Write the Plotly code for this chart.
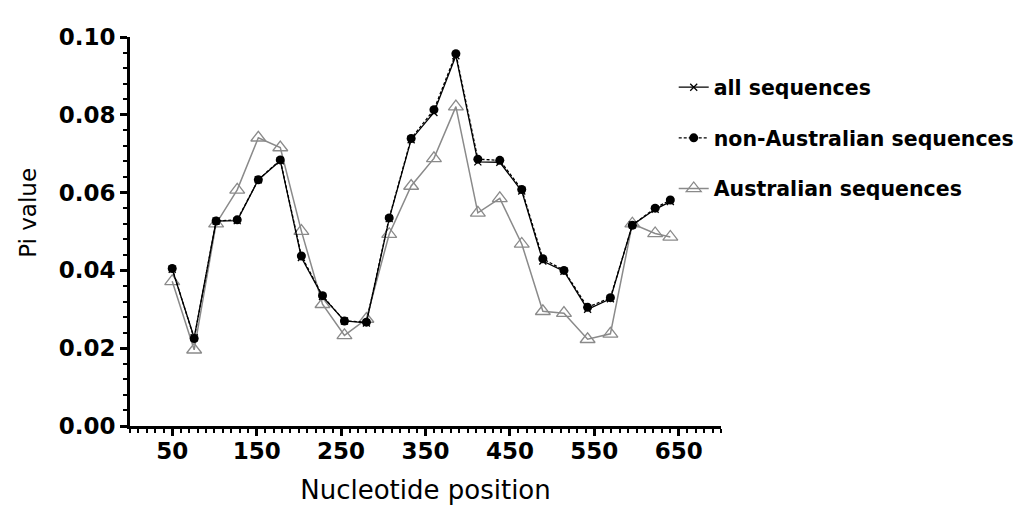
import plotly.graph_objects as go

positions = [50, 76, 102, 127, 152, 178, 203, 228, 254, 280, 307, 333,
             360, 386, 412, 438, 464, 489, 514, 542, 569, 595, 622, 640]

all_sequences = [0.0403, 0.0227, 0.0527, 0.0528, 0.0633, 0.0682, 0.0433, 0.0333,
                 0.0270, 0.0265, 0.0533, 0.0736, 0.0806, 0.0952, 0.0679, 0.0678,
                 0.0604, 0.0424, 0.0398, 0.0300, 0.0327, 0.0517, 0.0557, 0.0577]

non_australian = [0.0405, 0.0225, 0.0527, 0.0530, 0.0633, 0.0684, 0.0437, 0.0335,
                  0.0270, 0.0267, 0.0535, 0.0739, 0.0813, 0.0957, 0.0686, 0.0683,
                  0.0608, 0.0430, 0.0400, 0.0305, 0.0330, 0.0516, 0.0560, 0.0581]

australian = [0.0372, 0.0196, 0.0520, 0.0607, 0.0741, 0.0716, 0.0501, 0.0313,
              0.0233, 0.0275, 0.0493, 0.0617, 0.0688, 0.0821, 0.0548, 0.0585,
              0.0468, 0.0295, 0.0290, 0.0223, 0.0237, 0.0520, 0.0495, 0.0486]

x_ticks = [50, 150, 250, 350, 450, 550, 650]
y_ticks = [0.00, 0.02, 0.04, 0.06, 0.08, 0.10]

FONT = "'DejaVu Sans', sans-serif"
GRAY = "#8a8a8a"

fig = go.Figure()
fig.add_trace(go.Scatter(
    x=positions, y=australian, name="Australian sequences", mode="lines+markers",
    legendgroup="c", legendrank=3,
    line=dict(color=GRAY, width=1.5),
    marker=dict(symbol="triangle-up-open", size=13, color=GRAY, line=dict(width=1.3, color=GRAY)),
))
fig.add_trace(go.Scatter(
    x=positions, y=non_australian, name="non-Australian sequences", mode="lines+markers",
    legendgroup="b", legendrank=2,
    line=dict(color="black", width=1.3, dash="3px,2px"),
    marker=dict(symbol="circle", size=9, color="black"),
))
fig.add_trace(go.Scatter(
    x=positions, y=all_sequences, name="all sequences", mode="lines+markers",
    legendgroup="a", legendrank=1,
    line=dict(color="black", width=1.3),
    marker=dict(symbol="x-thin", size=7, color="black", line=dict(width=1.3, color="black")),
))

fig.update_layout(
    width=1027, height=505,
    paper_bgcolor="white", plot_bgcolor="white",
    margin=dict(l=122, r=314, t=29, b=87),
    font=dict(family=FONT, color="black"),
    showlegend=True,
    legend=dict(
        x=0.920, y=0.922, xanchor="left", yanchor="top",
        traceorder="grouped",
        font=dict(family=FONT, size=20.5, color="black", weight="bold"),
        tracegroupgap=21, itemwidth=30,
        bgcolor="rgba(0,0,0,0)",
    ),
    xaxis=dict(
        range=[0, 700], tickvals=x_ticks, ticktext=[str(v) for v in x_ticks],
        showgrid=False, zeroline=False,
        showline=True, linecolor="black", linewidth=3,
        ticks="outside", ticklen=7, tickwidth=2.5, tickcolor="black",
        ticklabelstandoff=-5,
        tickfont=dict(family=FONT, size=23, color="black", weight="bold"),
        minor=dict(dtick=10, tick0=0, ticks="outside", ticklen=4, tickwidth=2, tickcolor="black", showgrid=False),
        title=dict(text="Nucleotide position", font=dict(family=FONT, size=26, color="black"), standoff=19),
    ),
    yaxis=dict(
        range=[0, 0.1], tickvals=y_ticks, ticktext=[f"{v:.2f}" for v in y_ticks],
        showgrid=False, zeroline=False,
        showline=True, linecolor="black", linewidth=3,
        ticks="outside", ticklen=7, tickwidth=2.5, tickcolor="black",
        tickfont=dict(family=FONT, size=23, color="black", weight="bold"),
        minor=dict(dtick=0.004, tick0=0, ticks="outside", ticklen=4, tickwidth=2, tickcolor="black", showgrid=False),
    ),
    annotations=[dict(
        text="Pi value", textangle=-90, showarrow=False,
        xref="paper", yref="paper", x=-0.1726, y=0.548,
        xanchor="center", yanchor="middle",
        font=dict(family=FONT, size=23, color="black"),
    )],
)

fig.write_html("out.html")
